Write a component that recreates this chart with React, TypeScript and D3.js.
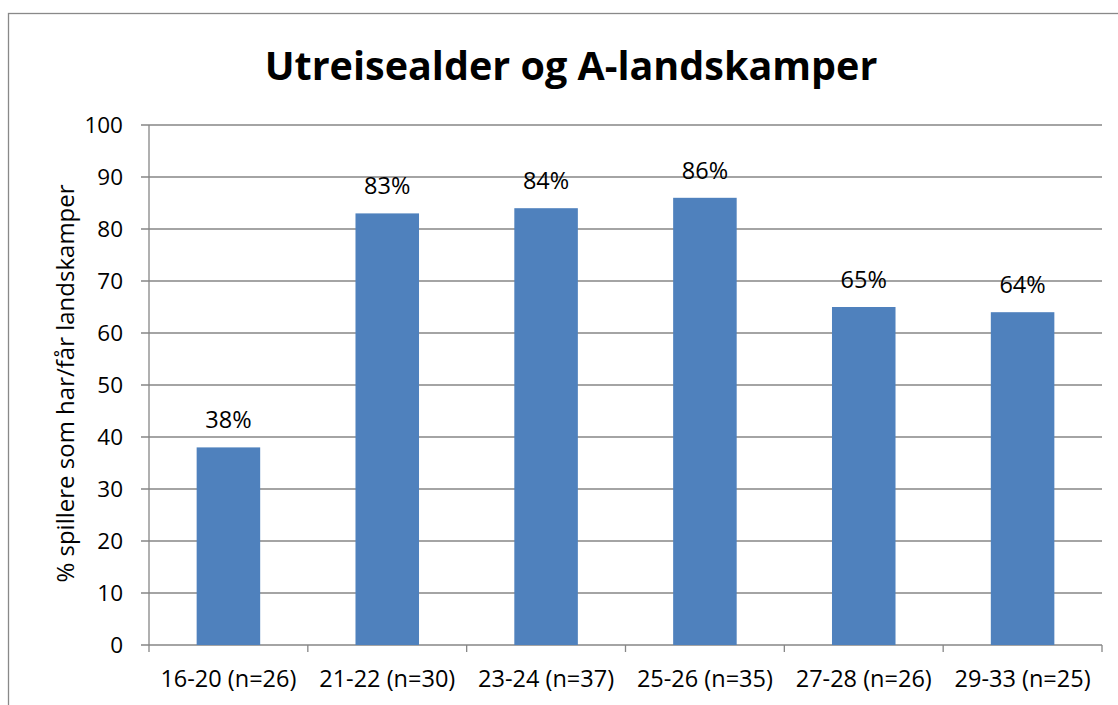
import React from "react";
import * as d3 from "d3";

const categories = ["16-20 (n=26)", "21-22 (n=30)", "23-24 (n=37)", "25-26 (n=35)", "27-28 (n=26)", "29-33 (n=25)"];
const values = [38, 83, 84, 86, 65, 64];
const yTicks = [0, 10, 20, 30, 40, 50, 60, 70, 80, 90, 100];
const title = "Utreisealder og A-landskamper";
const yTitle = "% spillere som har/får landskamper";

const W = 1118;
const H = 705;
const plot = { left: 149, right: 1102, top: 125, bottom: 645 };
const FONT = "'Open Sans', sans-serif";
const GRID = "#868686";

export default function App() {
  const x = d3.scaleBand<string>().domain(categories).range([plot.left, plot.right]).padding(0);
  const y = d3.scaleLinear().domain([0, 100]).range([plot.bottom, plot.top]);
  const bw = x.bandwidth() * 0.4;
  const boundaries = d3.range(categories.length + 1).map((i) => plot.left + i * x.step());

  return (
    <svg width={W} height={H} style={{ position: "absolute", left: 0, top: 0, background: "#fff" }}>
      <rect x={8.5} y={13.5} width={W} height={H} fill="#fff" stroke="#898989" strokeWidth={1.3} />
      <text x={571} y={80} textAnchor="middle" fontFamily={FONT} fontWeight={700} fontSize={39.5} fill="#000">
        {title}
      </text>
      {yTicks.map((t) => (
        <g key={t}>
          <line x1={plot.left - 8} x2={plot.right} y1={y(t)} y2={y(t)} stroke={GRID} strokeWidth={1.3} />
          <text x={123} y={y(t)} dy="0.36em" textAnchor="end" fontFamily={FONT} fontSize={22.5} fill="#000">
            {t}
          </text>
        </g>
      ))}
      <line x1={plot.left} x2={plot.left} y1={plot.top} y2={plot.bottom} stroke={GRID} strokeWidth={1.3} />
      {boundaries.map((b, i) => (
        <line key={i} x1={b} x2={b} y1={plot.bottom} y2={plot.bottom + 7} stroke={GRID} strokeWidth={1.3} />
      ))}
      {categories.map((c, i) => {
        const cx = (x(c) as number) + x.bandwidth() / 2;
        return (
          <g key={c}>
            <rect x={cx - bw / 2} y={y(values[i])} width={bw} height={plot.bottom - y(values[i])} fill="#4F81BD" />
            <text x={cx} y={y(values[i]) - 19} textAnchor="middle" fontFamily={FONT} fontSize={23.5} fill="#000">
              {values[i]}%
            </text>
            <text x={cx} y={687} textAnchor="middle" fontFamily={FONT} fontSize={23.5} fill="#000">
              {c}
            </text>
          </g>
        );
      })}
      <text
        transform={`translate(74, 383.5) rotate(-90)`}
        textAnchor="middle"
        fontFamily={FONT}
        fontSize={24}
        fill="#000"
      >
        {yTitle}
      </text>
    </svg>
  );
}
